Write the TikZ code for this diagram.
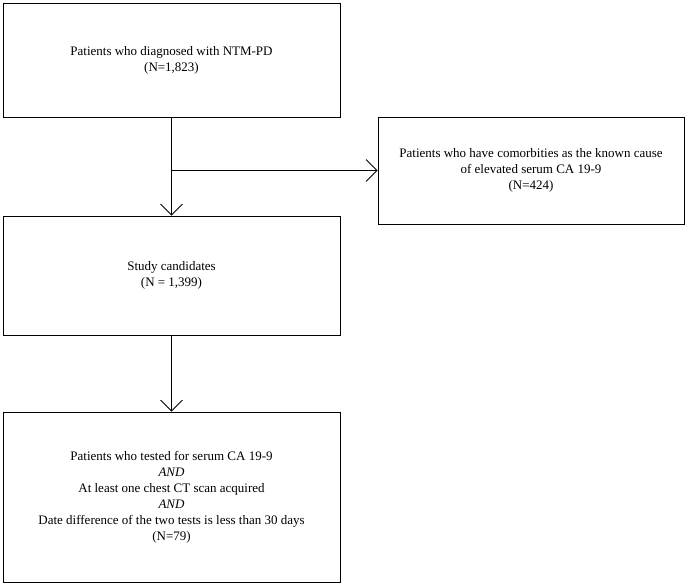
\documentclass[tikz,border=0pt]{standalone}
\usepackage{fontspec}
\setmainfont{Liberation Serif}
\usetikzlibrary{positioning, arrows.meta}

\tikzset{box/.style={draw, line width=0.8pt, align=center, font=\fontsize{13}{16}\selectfont},
         flow/.style={line width=0.8pt, -{Straight Barb[length=11pt,width=22pt,line width=0.8pt]}}}

\begin{document}
\begin{tikzpicture}[x=1pt, y=-1pt]
    \useasboundingbox (0,0) rectangle (685,584);
    \node[box, minimum width=337pt, minimum height=114pt] (diag) at (171.5,60) {Patients who diagnosed with NTM-PD\\(N=1,823)};
    \node[box, minimum width=306pt, minimum height=107pt] (excl) at (531,170.5) {Patients who have comorbities as the known cause\\of elevated serum CA 19-9\\(N=424)};
    \node[box, minimum width=337pt, minimum height=119pt] (cand) at (171.5,275.5) {Study candidates\\(N = 1,399)};
    \node[box, minimum width=337pt, minimum height=170pt] (final) at (171.5,497) {Patients who tested for serum CA 19-9\\\textit{AND}\\At least one chest CT scan acquired\\\textit{AND}\\Date difference of the two tests is less than 30 days\\(N=79)};
    \coordinate (split) at (171,170.5);

    \draw[flow] (diag) -- (cand);
    \draw[flow] (split) -- (excl);
    \draw[flow] (cand) -- (final);
\end{tikzpicture}
\end{document}
